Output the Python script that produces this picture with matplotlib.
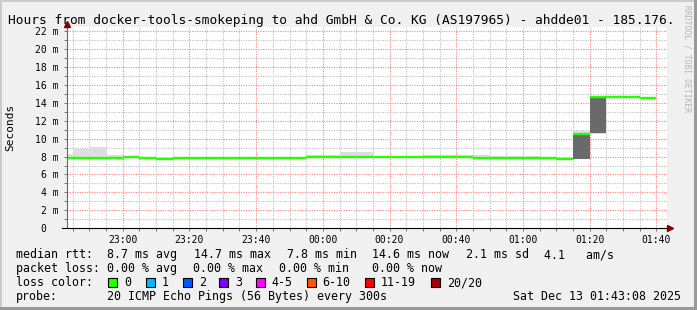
import numpy as np
import matplotlib
matplotlib.use("Agg")
import matplotlib.pyplot as plt
from matplotlib.patches import Rectangle

W, H = 697, 310
MONO = "DejaVu Sans Mono"

# rrd step = 5 min, x is minutes relative to 23:00
step = 5
bin_start = np.arange(-20, 160, step)   # 22:40 ... 01:35

median = [7.85, 7.86, 7.86, 7.86, 7.93, 7.86, 7.71, 7.85, 7.85, 7.85,
          7.85, 7.85, 7.85, 7.85, 7.85, 7.92, 7.92, 7.90, 7.90, 7.90,
          7.90, 7.90, 7.90, 7.90, 7.90, 7.88, 7.88, 7.88, 7.88, 7.86,
          7.76, 10.55, 14.60, 14.66, 14.66, 14.55]
smoke_lo = [7.80, 7.80, 7.80, 7.80, 7.85, 7.67, 7.65, 7.78, 7.67, 7.78,
            7.78, 7.78, 7.78, 7.78, 7.78, 7.85, 7.85, 7.82, 7.82, 7.82,
            7.82, 7.82, 7.82, 7.82, 7.82, 7.80, 7.80, 7.80, 7.80, 7.67,
            7.70, 7.71, 10.50, 14.55, 14.55, 14.45]
smoke_hi = [8.27, 8.83, 9.08, 8.19, 8.02, 7.98, 7.98, 8.00, 7.98, 8.00,
            8.00, 8.00, 8.00, 8.00, 8.00, 8.12, 8.12, 8.45, 8.45, 8.05,
            8.05, 8.05, 8.19, 8.19, 8.19, 8.19, 8.04, 8.04, 8.04, 7.95,
            7.85, 10.84, 14.70, 14.75, 14.75, 14.65]
# dense part of the smoke (only where the rtt jumped)
dark_bins = [31, 32]
dark_lo = [7.74, 10.58]
dark_hi = [10.65, 14.56]

xticks = [0, 20, 40, 60, 80, 100, 120, 140, 160]
xtick_labels = ["23:00", "23:20", "23:40", "00:00", "00:20", "00:40",
                "01:00", "01:20", "01:40"]
yticks = [0, 2, 4, 6, 8, 10, 12, 14, 16, 18, 20, 22]
ytick_labels = ["0  "] + ["%d m" % v for v in yticks[1:]]

loss_labels = ["0", "1", "2", "3", "4-5", "6-10", "11-19", "20/20"]
loss_colors = ["#26ff00", "#00b8ff", "#0059ff", "#7e00ff", "#ff00ff",
               "#ff5500", "#ff0000", "#a10000"]

title = "Hours from docker-tools-smokeping to ahd GmbH & Co. KG (AS197965) - ahdde01 - 185.176."


def fx(x):
    return x / W


def fy(y):
    return 1 - y / H


fig = plt.figure(figsize=(W / 100, H / 100), dpi=100, facecolor="#f0f0f0")

# frame
fig.add_artist(Rectangle((0, fy(2)), 1, 2 / H, transform=fig.transFigure, color="#cbcbcb", lw=0))
fig.add_artist(Rectangle((0, 0), 2 / W, 1, transform=fig.transFigure, color="#cbcbcb", lw=0))
fig.add_artist(Rectangle((fx(694), 0), 3 / W, 1, transform=fig.transFigure, color="#999999", lw=0))
fig.add_artist(Rectangle((0, 0), 1, 3 / H, transform=fig.transFigure, color="#999999", lw=0))

left, right, top, bottom = 66.55, 666.7, 27.0, 228.3
ax = fig.add_axes([fx(left), fy(bottom), (right - left) / W, (bottom - top) / H])
ax.set_facecolor("white")
ax.set_xlim(-16.87, 163.13)
ax.set_ylim(0, 22.44)

# smoke
ax.bar(bin_start, np.array(smoke_hi) - np.array(smoke_lo), bottom=smoke_lo,
       width=step, align="edge", color="#dddddd", lw=0, zorder=2)
ax.bar(bin_start[dark_bins], np.array(dark_hi) - np.array(dark_lo), bottom=dark_lo,
       width=step, align="edge", color="#6a6a6a", lw=0, zorder=3)
# median, coloured by loss (all 0 here)
ax.hlines(median, bin_start, bin_start + step, colors=loss_colors[0], lw=1.7,
          capstyle="butt", zorder=4)

# grid
ax.set_xticks(xticks)
ax.set_xticklabels(xtick_labels)
ax.set_xticks(np.arange(-15, 165, 5), minor=True)
ax.set_yticks(yticks)
ax.set_yticklabels(ytick_labels)
ax.set_yticks(np.arange(1, 23, 2), minor=True)
dot = (0, (1, 1.2))
ax.grid(which="minor", color="#bdbdbd", ls=dot, lw=0.8, zorder=1)
ax.grid(which="major", color="#ff8080", ls=dot, lw=0.8, zorder=1)
ax.set_axisbelow(True)

for s in ["top", "right", "bottom", "left"]:
    ax.spines[s].set_visible(False)
ax.tick_params(which="both", length=2, width=0.72, color="#777777",
               labelsize=7, labelfontfamily=MONO)
ax.tick_params(axis="x", pad=2.5)
ax.tick_params(axis="y", pad=3.8)

# axes lines + arrows
ax.plot([0, 0], [0, 1.005], transform=ax.transAxes, color="#666666", lw=0.8,
        clip_on=False, zorder=5)
ax.plot([-0.008, 1.003], [0, 0], transform=ax.transAxes, color="black", lw=0.8,
        clip_on=False, zorder=5)
ax.plot([0], [1.015], transform=ax.transAxes, marker="^", ms=4.5, color="#800000",
        clip_on=False, zorder=6)
ax.plot([1.006], [0], transform=ax.transAxes, marker=">", ms=4.5, color="#800000",
        clip_on=False, zorder=6)

fig.text(fx(10.3), fy(127), "Seconds", rotation=90, ha="center", va="center",
         fontsize=8, family=MONO)
fig.text(fx(8), fy(24), title, ha="left", va="baseline", fontsize=9.3, family=MONO)
fig.text(fx(687), fy(5), "RRDTOOL / TOBI OETIKER", rotation=270, ha="center", va="top",
         fontsize=5.8, family=MONO, color="#b4b4b4")

# legend
leg = dict(fontsize=8.35, family=MONO, va="baseline", ha="left")
lines = [
    (258.3, [(16, "median rtt:"), (107.3, "8.7 ms avg"), (194, "14.7 ms max"),
             (286.7, "7.8 ms min"), (372.3, "14.6 ms now"), (465.7, "2.1 ms sd"),
             (544, "4.1   am/s")]),
    (272.3, [(16, "packet loss:"), (107.3, "0.00 % avg"), (193.3, "0.00 % max"),
             (279.3, "0.00 % min"), (372.3, "0.00 % now")]),
    (286.3, [(16, "loss color:")]),
    (300.3, [(16, "probe:"), (107.3, "20 ICMP Echo Pings (56 Bytes) every 300s"),
             (513.3, "Sat Dec 13 01:43:08 2025")]),
]
for yb, segs in lines:
    for xp, txt in segs:
        fig.text(fx(xp), fy(yb), txt, **leg)

box_x = [108, 145.7, 182.7, 219, 255.7, 306.7, 365, 430.7]
for bx, lab, col in zip(box_x, loss_labels, loss_colors):
    fig.add_artist(Rectangle((fx(bx), fy(286.7)), 9 / W, 8.4 / H, transform=fig.transFigure,
                             facecolor=col, edgecolor="black", lw=0.8))
    fig.text(fx(bx + 16), fy(286.3), lab, **leg)

fig.savefig("out.png", dpi=100, facecolor=fig.get_facecolor())
